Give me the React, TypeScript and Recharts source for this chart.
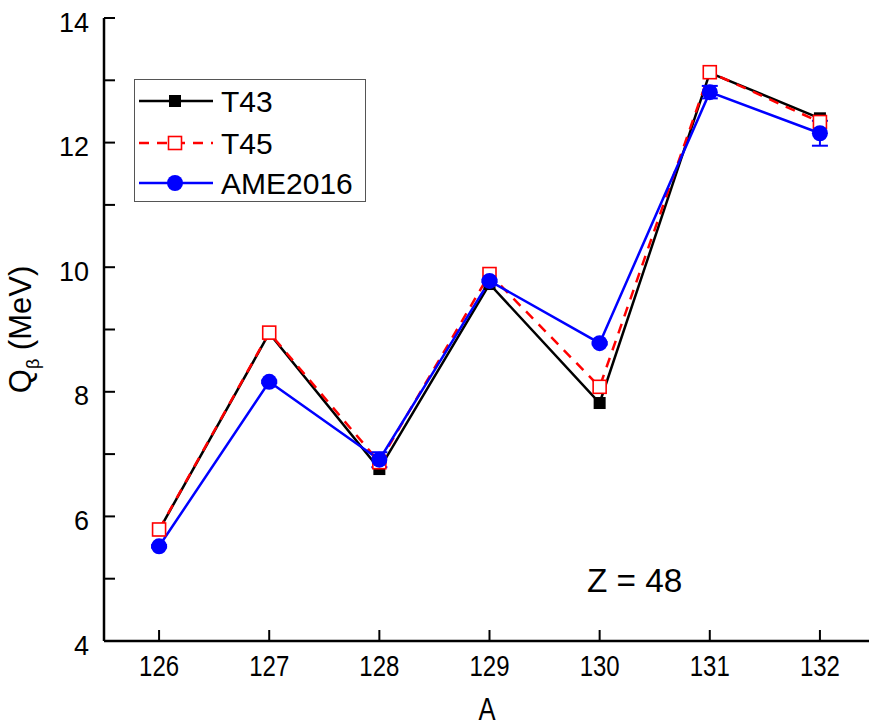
import { LineChart, Line, XAxis, YAxis, ErrorBar } from 'recharts';

const massNumbers = [126, 127, 128, 129, 130, 131, 132];
const t43 = [5.78, 8.94, 6.76, 9.73, 7.82, 13.12, 12.39];
const t45 = [5.79, 8.95, 6.87, 9.89, 8.08, 13.13, 12.33];
const ame2016 = [5.52, 8.16, 6.91, 9.78, 8.78, 12.81, 12.15];
const ameErr = [0.02, 0.02, 0.12, 0.02, 0.02, 0.1, 0.2];
const xTicks = [126, 127, 128, 129, 130, 131, 132];
const yTicks = [4, 5, 6, 7, 8, 9, 10, 11, 12, 13, 14];
const seriesNames = ['T43', 'T45', 'AME2016'];

const data = massNumbers.map((a, i) => ({
  a,
  t43: t43[i],
  t45: t45[i],
  ame: ame2016[i],
  ameErr: ameErr[i],
}));

const ARIAL = '"Liberation Sans", Arial, sans-serif';

// narrow-looking text (no Arial Narrow installed, so squeeze Liberation Sans)
const Narrow = ({ x, y, size, children, anchor = 'middle', sx = 0.8 }: any) => (
  <text
    x={0}
    y={0}
    transform={`translate(${x} ${y}) scale(${sx} 1)`}
    textAnchor={anchor}
    fontFamily={ARIAL}
    fontSize={size}
    fill="#000"
  >
    {children}
  </text>
);

const XTick = (props: any) => {
  const { x, payload } = props;
  return <Narrow x={x} y={676} size={30}>{payload.value}</Narrow>;
};

const SquareDot = (props: any) => {
  const { cx, cy } = props;
  if (cx == null || cy == null) return null;
  return <rect x={cx - 6} y={cy - 6} width={12} height={12} fill="#000" />;
};

const HollowSquare = (props: any) => {
  const { cx, cy } = props;
  if (cx == null || cy == null) return null;
  return <rect x={cx - 6.5} y={cy - 6.5} width={13} height={13} fill="#fff" stroke="#ff0000" strokeWidth={1.6} />;
};

const CircleDot = (props: any) => {
  const { cx, cy } = props;
  if (cx == null || cy == null) return null;
  return <circle cx={cx} cy={cy} r={8} fill="#0000ff" />;
};

const LegendBox = () => (
  <div
    style={{
      position: 'absolute',
      left: 134,
      top: 79,
      width: 230,
      height: 121,
      border: '1.5px solid #555',
      background: '#fff',
    }}
  >
    <svg width={230} height={121}>
      <line x1={4} y1={21} x2={78} y2={21} stroke="#000" strokeWidth={2.5} />
      <rect x={34} y={15} width={12} height={12} fill="#000" />
      <line x1={4} y1={63} x2={78} y2={63} stroke="#ff0000" strokeWidth={2.5} strokeDasharray="10 8" />
      <rect x={33.5} y={56.5} width={13} height={13} fill="#fff" stroke="#ff0000" strokeWidth={1.6} />
      <line x1={4} y1={103} x2={78} y2={103} stroke="#0000ff" strokeWidth={2.5} />
      <circle cx={40} cy={103} r={8} fill="#0000ff" />
      {seriesNames.map((n, i) => (
        <text key={n} x={86} y={[21, 63, 103][i] + 11} fontFamily={ARIAL} fontSize={30} fill="#000">
          {n}
        </text>
      ))}
    </svg>
  </div>
);

const YLabel = (props: any) => {
  const { viewBox } = props;
  const cx = 31;
  const cy = viewBox.y + viewBox.height / 2;
  return (
    <text
      x={cx}
      y={cy}
      transform={`rotate(-90 ${cx} ${cy})`}
      textAnchor="middle"
      fontFamily={ARIAL}
      fontSize={31}
      fill="#000"
    >
      Q
      <tspan fontSize={18} dy={8}>β</tspan>
      <tspan dy={-8}> (MeV)</tspan>
    </text>
  );
};

const XLabel = () => <Narrow x={487} y={720} size={32}>A</Narrow>;

export default function App() {
  return (
    <div style={{ position: 'absolute', left: 0, top: 0, width: 869, height: 728, overflow: 'hidden', background: '#fff' }}>
      <LineChart width={880} height={728} data={data} margin={{ top: 18, right: 5, bottom: 0, left: 0 }}>
        <XAxis
          xAxisId="bottom"
          dataKey="a"
          type="number"
          domain={[125.5, 132.5]}
          ticks={xTicks}
          height={87}
          tickSize={-11}
          axisLine={{ stroke: '#000', strokeWidth: 2.5 }}
          tickLine={{ stroke: '#000', strokeWidth: 2 }}
          tick={<XTick />}
          label={<XLabel />}
        />
        <XAxis
          xAxisId="top"
          dataKey="a"
          type="number"
          orientation="top"
          domain={[125.5, 132.5]}
          ticks={xTicks}
          height={0}
          mirror
          tick={false}
          tickSize={11}
          axisLine={{ stroke: '#000', strokeWidth: 2.5 }}
          tickLine={{ stroke: '#000', strokeWidth: 2 }}
        />
        <YAxis
          yAxisId="left"
          type="number"
          domain={[4, 14]}
          ticks={yTicks}
          width={104}
          tickSize={-11}
          tickMargin={26}
          interval={0}
          tickFormatter={(v: number) => (v % 2 === 0 ? String(v) : '')}
          axisLine={{ stroke: '#000', strokeWidth: 2.5 }}
          tickLine={{ stroke: '#000', strokeWidth: 2 }}
          tick={{ fontFamily: ARIAL, fontSize: 27, fill: '#000', dy: 4 }}
          label={<YLabel />}
        />
        <YAxis
          yAxisId="right"
          orientation="right"
          type="number"
          domain={[4, 14]}
          ticks={yTicks}
          width={0}
          mirror
          tick={false}
          tickSize={12}
          interval={0}
          axisLine={{ stroke: '#000', strokeWidth: 2.5 }}
          tickLine={{ stroke: '#000', strokeWidth: 2 }}
        />
        <Line
          xAxisId="bottom"
          yAxisId="left"
          dataKey="t43"
          name="T43"
          stroke="#000"
          strokeWidth={2.5}
          dot={<SquareDot />}
          activeDot={false}
          isAnimationActive={false}
        />
        <Line
          xAxisId="bottom"
          yAxisId="left"
          dataKey="t45"
          name="T45"
          stroke="#ff0000"
          strokeWidth={2.5}
          strokeDasharray="10 8"
          dot={<HollowSquare />}
          activeDot={false}
          isAnimationActive={false}
        />
        <Line
          xAxisId="bottom"
          yAxisId="left"
          dataKey="ame"
          name="AME2016"
          stroke="#0000ff"
          strokeWidth={2.5}
          dot={<CircleDot />}
          activeDot={false}
          isAnimationActive={false}
        >
          <ErrorBar dataKey="ameErr" direction="y" width={8} stroke="#0000ff" strokeWidth={2} isAnimationActive={false} />
        </Line>
      </LineChart>
      <LegendBox />
      <svg style={{ position: 'absolute', left: 0, top: 0 }} width={869} height={728} pointerEvents="none">
        <Narrow x={587} y={592} size={34} anchor="start" sx={0.98}>Z = 48</Narrow>
      </svg>
    </div>
  );
}
